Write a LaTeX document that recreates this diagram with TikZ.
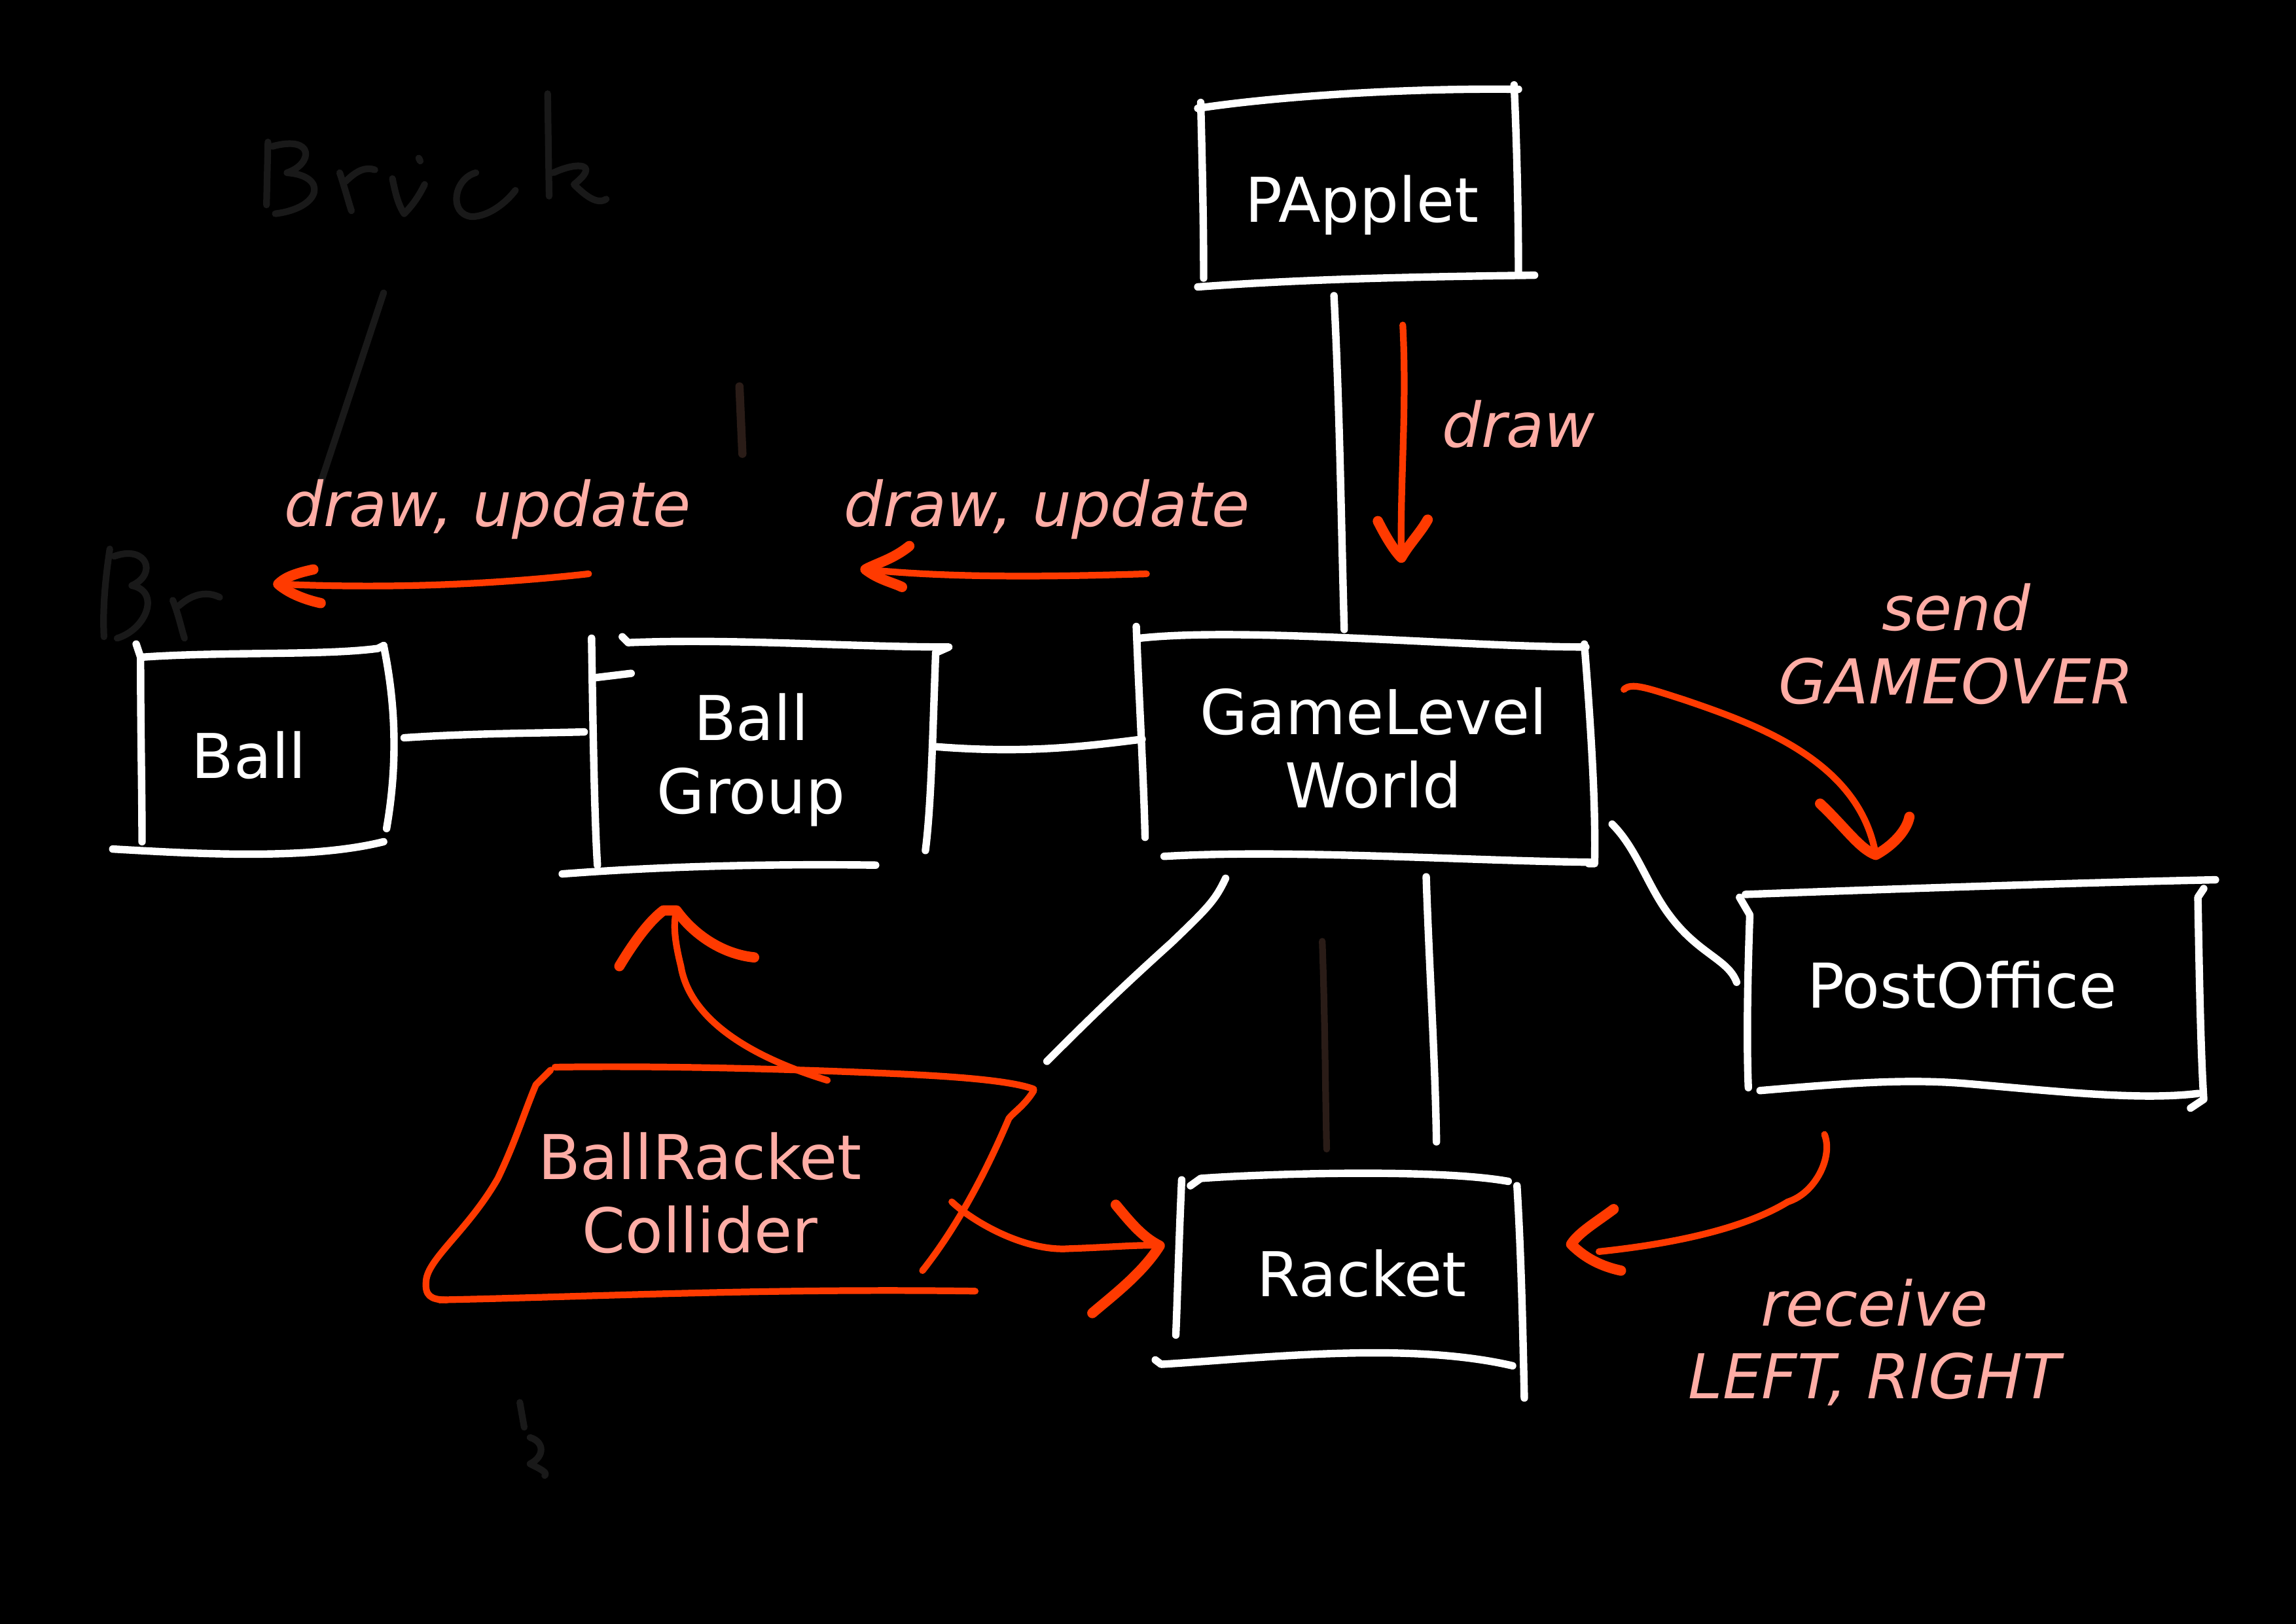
\documentclass[tikz,border=0pt]{standalone}
\usepackage{fontspec}
\setmainfont{DejaVu Sans}
\definecolor{arrowred}{HTML}{FF3A00}
\definecolor{salmon}{HTML}{FFADA5}
\definecolor{faint}{HTML}{191919}
\definecolor{faintbrown}{HTML}{2A1C17}
\begin{document}
\begin{tikzpicture}[x=0.01cm,y=-0.01cm,
  wline/.style={draw=white,line width=1.45pt,line cap=round,line join=round},
  rline/.style={draw=arrowred,line width=1.3pt,line cap=round,line join=round},
  rhead/.style={draw=arrowred,line width=2pt,line cap=round,line join=round},
  fline/.style={draw=faint,line width=1.3pt,line cap=round,line join=round},
  boxtext/.style={text=white,font=\fontsize{12}{14.2}\selectfont,align=center,inner sep=0pt},
  lbl/.style={text=salmon,font=\fontsize{12}{14.2}\selectfont\itshape,align=center,inner sep=0pt},
  clbl/.style={text=salmon,font=\fontsize{12}{14.2}\selectfont,align=center,inner sep=0pt}]
\useasboundingbox (0,0) rectangle (1568,1109);
\fill[black] (-10,-10) rectangle (1578,1119);

% ---------- faint scribbles ----------
\draw[fline] (183,97) -- (182,140);
\draw[fline] (186,100) .. controls (215,92) and (214,112) .. (196,118) .. controls (224,120) and (220,142) .. (188,146);
\draw[fline] (232,118) .. controls (236,130) and (238,138) .. (240,144) (236,124) .. controls (244,116) and (250,114) .. (256,116);
\draw[fline] (268,122) .. controls (270,132) and (272,140) .. (276,146) .. controls (282,140) and (286,134) .. (290,126);
\draw[fline] (286,108) -- (287,110);
\draw[fline] (325,118) .. controls (310,122) and (306,146) .. (322,148) .. controls (334,148) and (346,138) .. (352,130);
\draw[fline] (374,64) -- (375,134);
\draw[fline] (378,118) .. controls (395,110) and (410,112) .. (392,126) .. controls (400,134) and (408,140) .. (414,136);
\draw[fline] (262,200) -- (214,345);
\draw[fline] (75,375) .. controls (72,395) and (70,415) .. (71,435);
\draw[fline] (78,380) .. controls (100,372) and (108,392) .. (90,400) .. controls (110,404) and (100,430) .. (80,436);
\draw[fline] (118,410) .. controls (122,420) and (124,430) .. (126,436) (122,414) .. controls (132,405) and (142,404) .. (150,408);
\draw[draw=faintbrown,line width=1.6pt,line cap=round] (505,264) -- (507,310);
\draw[fline] (355,958) -- (358,975) (362,982) .. controls (372,985) and (372,995) .. (362,1000) .. controls (370,1004) and (374,1006) .. (372,1008);

% ---------- PApplet ----------
\node[boxtext] (papplet) at (930,140) {PApplet};
\draw[wline] (820,70) .. controls (821,110) and (822,150) .. (822,190);
\draw[wline] (818,74) .. controls (870,66) and (960,60) .. (1037,61);
\draw[wline] (1034,58) .. controls (1036,100) and (1037,150) .. (1037,188);
\draw[wline] (818,196) .. controls (900,190) and (980,189) .. (1048,188);

% ---------- GameLevel World ----------
\node[boxtext] (world) at (938,511) {GameLevel\\World};
\draw[wline] (776,428) .. controls (778,480) and (781,530) .. (782,572);
\draw[wline] (778,436) .. controls (850,428) and (1000,442) .. (1083,442);
\draw[wline] (1082,440) .. controls (1086,490) and (1090,550) .. (1089,590) -- (1085,590);
\draw[wline] (795,585) .. controls (880,580) and (1000,588) .. (1086,589);

% ---------- Ball ----------
\node[boxtext] (ball) at (170,516) {Ball};
\draw[wline] (93,440) -- (96,449) .. controls (96,500) and (97,540) .. (97,575);
\draw[wline] (96,449) .. controls (150,445) and (220,448) .. (258,443) -- (262,441);
\draw[wline] (262,441) .. controls (270,480) and (272,520) .. (264,566);
\draw[wline] (77,580) .. controls (130,583) and (210,588) .. (262,575);

% ---------- Ball Group ----------
\node[boxtext] (group) at (513,519) {Ball\\Group};
\draw[wline] (404,436) .. controls (405,500) and (406,560) .. (408,591);
\draw[wline] (425,435) -- (429,439) .. controls (500,436) and (580,442) .. (648,442) -- (639,446);
\draw[wline] (639,446) .. controls (637,500) and (636,550) .. (632,581);
\draw[wline] (406,463) -- (431,460);
\draw[wline] (384,597) .. controls (450,592) and (520,590) .. (598,591);

% ---------- Racket ----------
\node[boxtext] (racket) at (930,870) {Racket};
\draw[wline] (807,806) .. controls (805,850) and (804,890) .. (803,912);
\draw[wline] (813,810) -- (820,805) .. controls (860,802) and (980,798) .. (1030,807);
\draw[wline] (1036,810) .. controls (1039,860) and (1040,910) .. (1041,955);
\draw[wline] (789,929) -- (793,932) .. controls (860,928) and (960,916) .. (1033,933);

% ---------- PostOffice ----------
\node[boxtext] (post) at (1340,673) {PostOffice};
\draw[wline] (1188,613) -- (1195,625) .. controls (1193,680) and (1193,720) .. (1194,743);
\draw[wline] (1192,611) .. controls (1300,607) and (1420,603) .. (1513,601);
\draw[wline] (1505,607) -- (1501,613) .. controls (1502,670) and (1503,720) .. (1505,751) -- (1496,757);
\draw[wline] (1202,745) .. controls (1260,740) and (1300,737) .. (1340,740) .. controls (1400,745) and (1460,752) .. (1501,747);

% ---------- white connectors ----------
\coordinate (pA) at (911,202); \coordinate (pB) at (918,430);
\draw[wline] (pA) .. controls (915,280) and (916,360) .. (pB);
\coordinate (bA) at (276,504); \coordinate (bB) at (399,500);
\draw[wline] (bA) .. controls (320,501) and (360,501) .. (bB);
\coordinate (gA) at (638,510); \coordinate (gB) at (780,505);
\draw[wline] (gA) .. controls (700,515) and (740,510) .. (gB);
\coordinate (wA) at (837,600); \coordinate (wB) at (715,725);
\draw[wline] (wA) .. controls (830,615) and (825,620) .. (800,644) .. controls (760,680) and (735,705) .. (wB);
\coordinate (rA) at (974,599); \coordinate (rB) at (981,780);
\draw[wline] (rA) .. controls (976,660) and (980,720) .. (rB);
\draw[draw=faintbrown,line width=1.3pt,line cap=round] (903,643) .. controls (905,700) and (905,740) .. (906,785);
\coordinate (oA) at (1101,563); \coordinate (oB) at (1186,671);
\draw[wline] (oA) .. controls (1118,580) and (1125,605) .. (1140,625) .. controls (1160,652) and (1180,655) .. (oB);

% ---------- draw arrow ----------
\node[lbl] (ldraw) at (1037,290) {draw};
\coordinate (dA) at (958,222); \coordinate (dB) at (957,381);
\draw[rline] (dA) .. controls (961,280) and (956,330) .. (dB);
\draw[rhead] (941,356) .. controls (946,366) and (952,376) .. (dB) .. controls (962,372) and (970,364) .. (975,355);

% ---------- draw, update arrows ----------
\node[lbl] (lup1) at (333,348) {draw, update};
\coordinate (uA) at (402,392); \coordinate (uB) at (190,399);
\draw[rline] (uA) .. controls (330,400) and (260,402) .. (uB);
\draw[rhead] (214,389) .. controls (200,392) and (194,395) .. (uB) .. controls (198,406) and (210,410) .. (219,412);
\node[lbl] (lup2) at (715,348) {draw, update};
\coordinate (vA) at (783,392); \coordinate (vB) at (591,389);
\draw[rline] (vA) .. controls (720,394) and (650,395) .. (vB);
\draw[rhead] (621,373) .. controls (610,382) and (598,385) .. (vB) .. controls (600,396) and (610,398) .. (616,401);

% ---------- send GAMEOVER ----------
\node[lbl] (lsend) at (1336,440) {send\\GAMEOVER};
\coordinate (sA) at (1109,471); \coordinate (sB) at (1281,584);
\draw[rline] (sA) .. controls (1114,466) and (1125,470) .. (1150,478) .. controls (1200,495) and (1270,520) .. (sB);
\draw[rhead] (1243,549) .. controls (1260,565) and (1270,580) .. (sB) .. controls (1292,578) and (1302,568) .. (1304,558);

% ---------- receive LEFT, RIGHT ----------
\node[lbl] (lrecv) at (1280,917) {receive\\LEFT, RIGHT};
\coordinate (qA) at (1246,775); \coordinate (qB) at (1092,855);
\draw[rline] (qA) .. controls (1252,790) and (1240,815) .. (1221,821) .. controls (1190,840) and (1140,850) .. (qB);
\draw[rhead] (1102,826) .. controls (1090,835) and (1078,842) .. (1073,850) .. controls (1085,862) and (1098,866) .. (1107,868);

% ---------- BallRacket Collider ----------
\node[clbl] (coll) at (478,815) {BallRacket\\Collider};
\draw[rline] (379,729) .. controls (450,728) and (530,730) .. (600,733) .. controls (650,735) and (690,738) .. (706,744);
\draw[rline] (376,731) -- (366,741) .. controls (358,760) and (352,780) .. (340,805) .. controls (320,840) and (292,860) .. (291,875) .. controls (290,885) and (294,888) .. (305,888);
\draw[rline] (300,888) .. controls (400,886) and (520,880) .. (666,882);
\draw[rline] (706,745) .. controls (700,755) and (692,760) .. (689,764) .. controls (680,785) and (660,830) .. (630,868);

% collider -> Ball Group
\coordinate (cA) at (565,738); \coordinate (cB) at (462,622);
\draw[rline] (cA) .. controls (500,718) and (470,690) .. (465,660) .. controls (460,640) and (460,630) .. (cB);
\draw[rhead] (423,660) .. controls (435,640) and (445,628) .. (453,622) -- (cB) .. controls (475,640) and (495,652) .. (515,654);

% collider -> Racket
\coordinate (kA) at (650,821); \coordinate (kB) at (792,851);
\draw[rline] (kA) .. controls (665,835) and (700,855) .. (730,853) .. controls (760,852) and (780,850) .. (kB);
\draw[rhead] (762,823) .. controls (772,835) and (780,845) .. (kB) .. controls (780,870) and (760,885) .. (746,897);
\end{tikzpicture}
\end{document}
